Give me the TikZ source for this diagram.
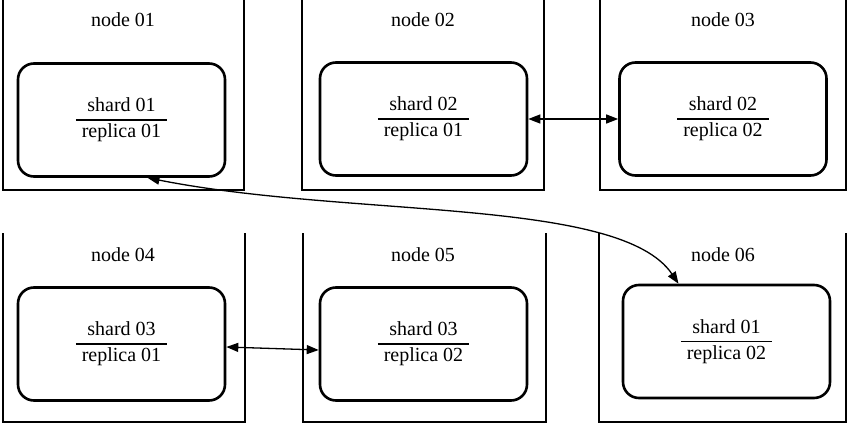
\documentclass[tikz,border=0pt]{standalone}
\usepackage{fontspec}
\setmainfont{Liberation Serif}
\usetikzlibrary{arrows.meta}
\setlength{\arrayrulewidth}{1.8pt}
\newcommand{\sr}[2]{\begin{tabular}{@{\hspace{6pt}}c@{\hspace{6pt}}}shard #1\\\hline replica #2\end{tabular}}
\begin{document}
\begin{tikzpicture}[x=1pt,y=-1pt,
  cont/.style={line width=2.8pt},
  shardbox/.style={draw,line width=2.6pt,rounded corners=16pt,minimum width=207pt,minimum height=113pt,inner sep=0pt,font=\fontsize{20}{24}\selectfont},
  lab/.style={font=\fontsize{20}{24}\selectfont,inner sep=0pt},
  link/.style={line width=1.3pt,{Triangle[length=12pt,width=9pt]}-{Triangle[length=12pt,width=9pt]}}]
\useasboundingbox (0,0) rectangle (849,425);
% containers
\draw[cont] (3,0) -- (3,190) -- (244,190) -- (244,0);
\draw[cont] (302,0) -- (302,190) -- (544,190) -- (544,0);
\draw[cont] (600,0) -- (600,190) -- (846,190) -- (846,0);
\draw[cont] (3,233) -- (3,422) -- (245,422) -- (245,233);
\draw[cont] (303,233) -- (303,422) -- (546,422) -- (546,233);
\draw[cont] (599,233) -- (599,422) -- (846,422) -- (846,233);
% labels
\node[lab] (n1) at (123,20) {node 01};
\node[lab] (n2) at (423,20) {node 02};
\node[lab] (n3) at (723,20) {node 03};
\node[lab] (n4) at (123,255) {node 04};
\node[lab] (n5) at (423,255) {node 05};
\node[lab] (n6) at (723,255) {node 06};
% shard boxes
\node[shardbox] (A) at (121.5,120) {\sr{01}{01}};
\node[shardbox] (B) at (423.5,119) {\sr{02}{01}};
\node[shardbox] (C) at (723,119) {\sr{02}{02}};
\node[shardbox] (D) at (121.5,344) {\sr{03}{01}};
\node[shardbox] (E) at (423.5,344) {\sr{03}{02}};
\node[shardbox] (F) at (726.5,341.5) {\sr{01}{02}};
% links
\draw[link] (B.east) -- (C.west);
\draw[link] ([yshift=-3pt]D.east) -- ([yshift=-6pt]E.west);
\draw[link] ([xshift=26pt]A.south) .. controls (350,218) and (620,197) .. ([xshift=-48pt]F.north);
\end{tikzpicture}
\end{document}
